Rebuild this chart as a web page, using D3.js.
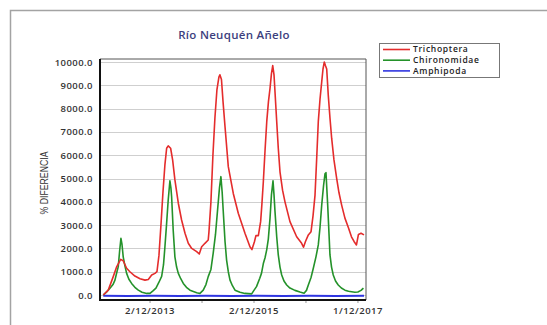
<!DOCTYPE html>
<html>
<head>
<meta charset="utf-8">
<script src="https://cdn.jsdelivr.net/npm/d3@7"></script>
<style>
  html, body { margin: 0; padding: 0; background: #fff; }
  svg { display: block; }
</style>
</head>
<body>
<div id="chart"></div>
<script>
// ---------------------------
// Data
// ---------------------------
const title = 'Río Neuquén Añelo';
const yLabel = '% DIFERENCIA';
const seriesNames = ['Trichoptera', 'Chironomidae', 'Amphipoda'];
const seriesColors = ['#e42c2c', '#24922a', '#2f35e0'];

const yTicks = [0, 1000, 2000, 3000, 4000, 5000, 6000, 7000, 8000, 9000, 10000];
const xTickDates = ['2013-12-02', '2014-12-02', '2015-12-02', '2016-12-01', '2017-12-01'];
const xTickLabels = ['2/12/2013', '', '2/12/2015', '', '1/12/2017'];

const trichoptera = [
  ['2013-01-11', 0], ['2013-02-15', 210], ['2013-03-22', 790], ['2013-04-15', 1210],
  ['2013-05-13', 1530], ['2013-05-31', 1470], ['2013-06-24', 1150], ['2013-07-17', 1000],
  ['2013-08-21', 815], ['2013-09-26', 700], ['2013-10-31', 640], ['2013-11-23', 670],
  ['2013-12-17', 860], ['2014-01-09', 930], ['2014-01-23', 1000], ['2014-02-06', 1700],
  ['2014-02-20', 3000], ['2014-03-06', 4400], ['2014-03-20', 5600], ['2014-04-01', 6300],
  ['2014-04-12', 6400], ['2014-04-29', 6300], ['2014-05-13', 5800], ['2014-05-29', 4940],
  ['2014-06-22', 3940], ['2014-07-15', 3220], ['2014-08-08', 2650], ['2014-08-31', 2220],
  ['2014-09-24', 2000], ['2014-10-29', 1860], ['2014-11-16', 1760], ['2014-12-03', 2070],
  ['2014-12-26', 2220], ['2015-01-18', 2360], ['2015-01-23', 2700], ['2015-02-06', 4000],
  ['2015-02-20', 6000], ['2015-03-06', 7600], ['2015-03-20', 8800], ['2015-04-03', 9350],
  ['2015-04-10', 9450], ['2015-04-21', 9250], ['2015-05-02', 8300], ['2015-05-16', 7220],
  ['2015-06-08', 5510], ['2015-07-13', 4360], ['2015-08-17', 3510], ['2015-10-03', 2650],
  ['2015-11-07', 2070], ['2015-11-21', 1950], ['2015-12-09', 2300], ['2015-12-19', 2550],
  ['2016-01-05', 2550], ['2016-01-21', 3150], ['2016-01-30', 3900], ['2016-02-09', 4860],
  ['2016-02-21', 6200], ['2016-03-04', 7440], ['2016-03-16', 8300], ['2016-03-27', 8870],
  ['2016-04-06', 9500], ['2016-04-15', 9850], ['2016-04-24', 9450], ['2016-05-03', 8500],
  ['2016-05-13', 7440], ['2016-05-24', 6300], ['2016-06-05', 5290], ['2016-06-23', 4500],
  ['2016-07-10', 4000], ['2016-08-14', 3150], ['2016-09-30', 2500], ['2016-11-04', 2220],
  ['2016-11-17', 2050], ['2016-12-01', 2300], ['2016-12-21', 2580], ['2017-01-09', 2720],
  ['2017-01-23', 3400], ['2017-02-06', 4290], ['2017-02-18', 5900], ['2017-03-01', 7440],
  ['2017-03-13', 8400], ['2017-03-25', 9150], ['2017-04-03', 9700], ['2017-04-12', 10000],
  ['2017-04-20', 9850], ['2017-04-29', 9700], ['2017-05-10', 8580], ['2017-05-22', 7600],
  ['2017-06-03', 6720], ['2017-06-19', 5800], ['2017-07-08', 5010], ['2017-07-24', 4400],
  ['2017-08-12', 3860], ['2017-09-04', 3300], ['2017-09-28', 2900], ['2017-10-20', 2500],
  ['2017-11-07', 2300], ['2017-11-24', 2150], ['2017-12-08', 2600], ['2017-12-26', 2650],
  ['2018-01-16', 2580]
];

const chironomidae = [
  ['2013-01-11', 0], ['2013-02-06', 150], ['2013-02-27', 290], ['2013-03-20', 450],
  ['2013-04-03', 640], ['2013-04-17', 1000], ['2013-04-26', 1210], ['2013-05-06', 1900],
  ['2013-05-15', 2430], ['2013-05-22', 2200], ['2013-05-31', 1640], ['2013-06-12', 1250],
  ['2013-06-24', 930], ['2013-07-10', 680], ['2013-07-29', 500], ['2013-08-21', 330],
  ['2013-09-14', 210], ['2013-10-10', 120], ['2013-11-12', 70], ['2013-12-05', 70],
  ['2013-12-26', 180], ['2014-01-16', 300], ['2014-02-06', 550], ['2014-02-25', 800],
  ['2014-03-10', 1300], ['2014-03-20', 2070], ['2014-03-31', 3000], ['2014-04-12', 4080],
  ['2014-04-21', 4700], ['2014-04-24', 4900], ['2014-05-01', 4600], ['2014-05-06', 4220],
  ['2014-05-17', 2790], ['2014-05-29', 1640], ['2014-06-10', 1200], ['2014-06-22', 930],
  ['2014-07-09', 700], ['2014-07-27', 500], ['2014-08-18', 330], ['2014-09-12', 210],
  ['2014-10-29', 100], ['2014-11-21', 70], ['2014-12-14', 210], ['2015-01-02', 450],
  ['2015-01-18', 790], ['2015-02-06', 1100], ['2015-02-22', 1800], ['2015-03-10', 2600],
  ['2015-03-24', 3600], ['2015-04-07', 4600], ['2015-04-17', 5080], ['2015-04-26', 4400],
  ['2015-05-03', 3650], ['2015-05-16', 2300], ['2015-05-27', 1500], ['2015-06-08', 1000],
  ['2015-06-20', 640], ['2015-07-07', 400], ['2015-07-25', 210], ['2015-08-29', 120],
  ['2015-10-03', 70], ['2015-11-19', 50], ['2015-12-05', 200], ['2015-12-23', 360],
  ['2016-01-15', 720], ['2016-01-27', 930], ['2016-02-09', 1350], ['2016-02-21', 1600],
  ['2016-03-04', 1950], ['2016-03-15', 2400], ['2016-03-27', 3300], ['2016-04-06', 4300],
  ['2016-04-17', 4900], ['2016-04-24', 4300], ['2016-05-01', 3580], ['2016-05-13', 2500],
  ['2016-05-24', 1720], ['2016-06-05', 1200], ['2016-06-17', 860], ['2016-07-03', 600],
  ['2016-07-22', 430], ['2016-08-14', 300], ['2016-09-18', 200], ['2016-10-23', 130],
  ['2016-11-21', 80], ['2016-12-08', 200], ['2016-12-21', 430], ['2017-01-09', 750],
  ['2017-01-25', 1150], ['2017-02-13', 1650], ['2017-03-01', 2150], ['2017-03-13', 2900],
  ['2017-03-25', 3860], ['2017-04-07', 4700], ['2017-04-17', 5200], ['2017-04-24', 5250],
  ['2017-05-06', 3860], ['2017-05-22', 1720], ['2017-06-02', 1200], ['2017-06-14', 860],
  ['2017-06-30', 600], ['2017-07-19', 430], ['2017-08-10', 300], ['2017-09-04', 210],
  ['2017-09-29', 160], ['2017-10-21', 140], ['2017-11-13', 120], ['2017-12-04', 130],
  ['2017-12-26', 200], ['2018-01-12', 300]
];

const amphipoda = [
  ['2013-01-11', -30], ['2013-07-01', -40], ['2014-01-01', -30], ['2014-07-01', -40],
  ['2015-01-01', -30], ['2015-07-01', -40], ['2016-01-01', -30], ['2016-07-01', -40],
  ['2017-01-01', -30], ['2017-07-01', -40], ['2018-01-16', -30]
];

// ---------------------------
// Setup
// ---------------------------
const width = 547, height = 325;
const plot = { left: 100, right: 366, top: 59, bottom: 299 };
const parseDate = d3.timeParse('%Y-%m-%d');

const svg = d3.select('#chart').append('svg')
  .attr('width', width)
  .attr('height', height);

// outer frame
svg.append('path')
  .attr('d', `M${width},10.5 H10.5 V${height}`)
  .attr('fill', 'none')
  .attr('stroke', '#a3a3a3')
  .attr('stroke-width', 1.5);

const x = d3.scaleTime()
  .domain([parseDate('2012-12-19'), parseDate('2018-01-30')])
  .range([plot.left, plot.right]);

const y = d3.scaleLinear()
  .domain([-170, 10130])
  .range([plot.bottom, plot.top]);

// ---------------------------
// Gridlines + y axis labels
// ---------------------------
svg.append('g')
  .selectAll('line')
  .data(yTicks)
  .join('line')
  .attr('x1', plot.left)
  .attr('x2', plot.right)
  .attr('y1', d => Math.round(y(d)) + 0.5)
  .attr('y2', d => Math.round(y(d)) + 0.5)
  .attr('stroke', '#cfcfcf')
  .attr('stroke-width', 1);

const yAxis = svg.append('g')
  .attr('transform', `translate(${plot.left},0)`)
  .call(d3.axisLeft(y).tickValues(yTicks).tickSize(0).tickPadding(7).tickFormat(d3.format('.1f')));
yAxis.select('.domain').remove();
yAxis.selectAll('text')
  .attr('font-family', '"Open Sans", sans-serif')
  .attr('font-size', 9.5)
  .attr('font-weight', 600)
  .attr('letter-spacing', 0.45)
  .attr('fill', '#333');

// ---------------------------
// X axis
// ---------------------------
const xAxis = svg.append('g')
  .attr('transform', `translate(0,${plot.bottom + 1})`)
  .call(d3.axisBottom(x)
    .tickValues(xTickDates.map(parseDate))
    .tickSize(3)
    .tickPadding(4)
    .tickFormat((d, i) => xTickLabels[i]));
xAxis.select('.domain').remove();
xAxis.selectAll('line').attr('stroke', '#999');
xAxis.selectAll('text')
  .attr('font-family', '"Open Sans", sans-serif')
  .attr('font-size', 9.5)
  .attr('font-weight', 600)
  .attr('letter-spacing', 0.5)
  .attr('fill', '#333');

// ---------------------------
// Series
// ---------------------------
const line = d3.line()
  .x(d => x(parseDate(d[0])))
  .y(d => y(d[1]));

svg.append('defs').append('clipPath').attr('id', 'plot-clip')
  .append('rect')
  .attr('x', plot.left).attr('y', plot.top)
  .attr('width', plot.right - plot.left).attr('height', plot.bottom - plot.top);

const seriesGroup = svg.append('g').attr('clip-path', 'url(#plot-clip)');
[amphipoda, chironomidae, trichoptera].forEach((data, i) => {
  const idx = 2 - i;
  seriesGroup.append('path')
    .datum(data)
    .attr('d', line)
    .attr('fill', 'none')
    .attr('stroke', seriesColors[idx])
    .attr('stroke-width', idx === 2 ? 2 : 1.6)
    .attr('stroke-linejoin', 'round');
});

// plot frame
svg.append('path')
  .attr('d', `M${plot.left},${plot.top} H${plot.right} V${plot.bottom + 1}`)
  .attr('fill', 'none')
  .attr('stroke', '#555')
  .attr('stroke-width', 1);
svg.append('path')
  .attr('d', `M${plot.left},${plot.top} V${plot.bottom + 1} H${plot.right}`)
  .attr('fill', 'none')
  .attr('stroke', '#111')
  .attr('stroke-width', 2);

// ---------------------------
// Title + axis label
// ---------------------------
svg.append('text')
  .attr('x', 234)
  .attr('y', 39)
  .attr('text-anchor', 'middle')
  .attr('font-family', '"Open Sans", sans-serif')
  .attr('font-size', 11.5)
  .attr('font-weight', 600)
  .attr('letter-spacing', 0.3)
  .attr('fill', '#3d3f7e')
  .text(title);

svg.append('text')
  .attr('transform', 'translate(48,183) rotate(-90)')
  .attr('text-anchor', 'middle')
  .attr('font-family', '"Liberation Sans Narrow", "Liberation Sans", sans-serif')
  .attr('font-size', 11.5)
  .attr('textLength', 63)
  .attr('lengthAdjust', 'spacingAndGlyphs')
  .attr('fill', '#333')
  .text(yLabel);

// ---------------------------
// Legend
// ---------------------------
const legend = svg.append('g');
legend.append('rect')
  .attr('x', 379.5).attr('y', 43.5)
  .attr('width', 120).attr('height', 34)
  .attr('fill', '#fff')
  .attr('stroke', '#777')
  .attr('stroke-width', 1);

const legendRows = legend.selectAll('g.row')
  .data(seriesNames)
  .join('g')
  .attr('class', 'row')
  .attr('transform', (d, i) => `translate(383,${49.5 + i * 10.7})`);
legendRows.append('line')
  .attr('x1', 0).attr('x2', 27)
  .attr('stroke', (d, i) => seriesColors[i])
  .attr('stroke-width', 1.6);
legendRows.append('text')
  .attr('x', 30)
  .attr('dy', '0.35em')
  .attr('font-family', '"Open Sans", sans-serif')
  .attr('font-size', 8.5)
  .attr('font-weight', 600)
  .attr('letter-spacing', 0.7)
  .attr('fill', '#222')
  .text(d => d);
</script>
</body>
</html>
